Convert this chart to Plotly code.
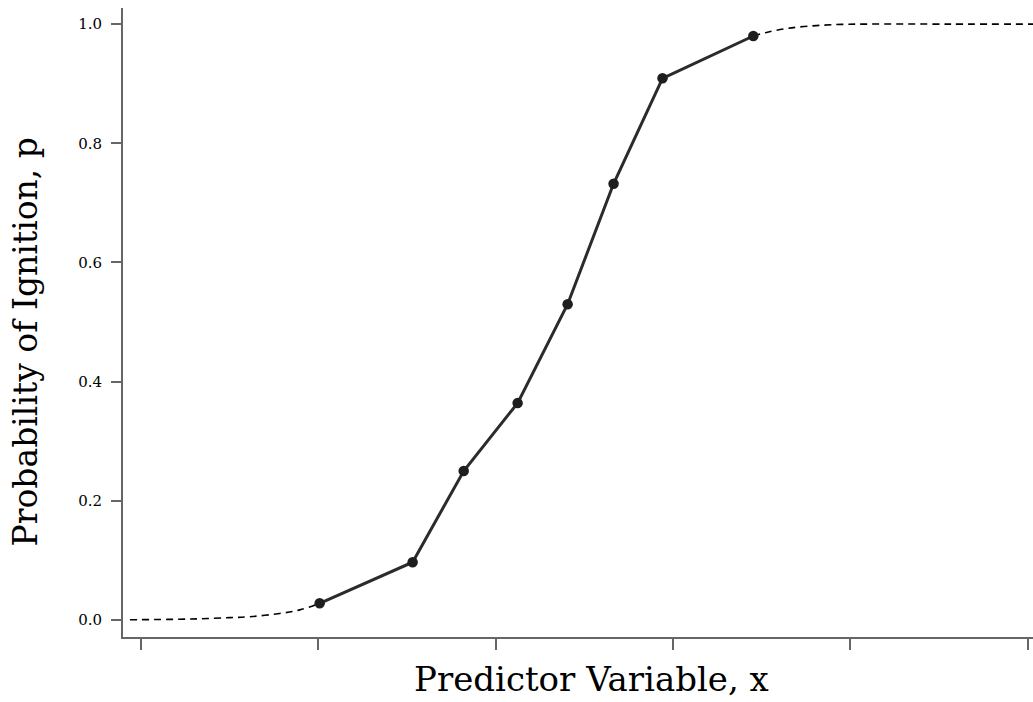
import plotly.graph_objects as go

# Observed points (solid line with markers)
obs_x = [1.008, 1.532, 1.82, 2.124, 2.406, 2.665, 2.941, 3.453]
obs_p = [0.028, 0.097, 0.25, 0.364, 0.530, 0.732, 0.909, 0.980]

# Fitted curve tails (dashed)
low_x = [-0.062, 0.15, 0.332, 0.5, 0.614, 0.783, 0.896, 1.008]
low_p = [0.0005, 0.001, 0.002, 0.004, 0.0055, 0.011, 0.017, 0.028]
high_x = [3.453, 3.527, 3.65, 3.808, 3.95, 4.09, 4.56, 5.03]
high_p = [0.980, 0.986, 0.993, 0.9975, 0.9995, 1.0, 1.0, 1.0]

y_ticks = [0.0, 0.2, 0.4, 0.6, 0.8, 1.0]
x_ticks = [0, 1, 2, 3, 4, 5]

x_title = "Predictor Variable, x"
y_title = "Probability of Ignition, p"

fig = go.Figure()
for xs, ps in [(low_x, low_p), (high_x, high_p)]:
    fig.add_trace(go.Scatter(x=xs, y=ps, mode="lines",
                             line=dict(color="black", width=1.6, dash="7px,5px", shape="spline"),
                             hoverinfo="skip", showlegend=False))
fig.add_trace(go.Scatter(x=obs_x, y=obs_p, mode="lines+markers",
                         line=dict(color="#2b2b2b", width=3),
                         marker=dict(color="#1e1e1e", size=10.5, symbol="circle"),
                         showlegend=False))

axis_col = "#666666"
fig.update_layout(
    width=1033, height=702,
    margin=dict(l=123, r=0, t=8, b=65),
    plot_bgcolor="white", paper_bgcolor="white",
    font=dict(family="DejaVu Serif", color="black"),
    xaxis=dict(range=[-0.101, 5.03], tickvals=x_ticks, showticklabels=False, automargin=False,
               ticks="outside", ticklen=11, tickwidth=2, tickcolor=axis_col,
               showline=True, linecolor=axis_col, linewidth=2, showgrid=False, zeroline=False),
    yaxis=dict(range=[-0.0285, 1.027], tickvals=y_ticks, ticktext=[f"{v:.1f}" for v in y_ticks],
               automargin=False,
               ticks="outside", ticklen=10, tickwidth=2, tickcolor=axis_col,
               showline=True, linecolor=axis_col, linewidth=2, showgrid=False, zeroline=False,
               tickfont=dict(size=15, family="DejaVu Serif"), ticklabelstandoff=6),
    annotations=[
        dict(text=x_title, xref="paper", yref="paper", x=0.5143, y=-0.0668,
             xanchor="center", yanchor="middle", showarrow=False,
             font=dict(size=34, family="DejaVu Serif", color="black")),
        dict(text=y_title, xref="paper", yref="paper", x=-0.1066, y=0.4698,
             xanchor="center", yanchor="middle", showarrow=False, textangle=-90,
             font=dict(size=33, family="DejaVu Serif", color="black")),
    ],
)

fig.write_html("out.html", config={"displayModeBar": False},
               post_script="document.body.style.margin='0';document.body.style.overflow='hidden';")
